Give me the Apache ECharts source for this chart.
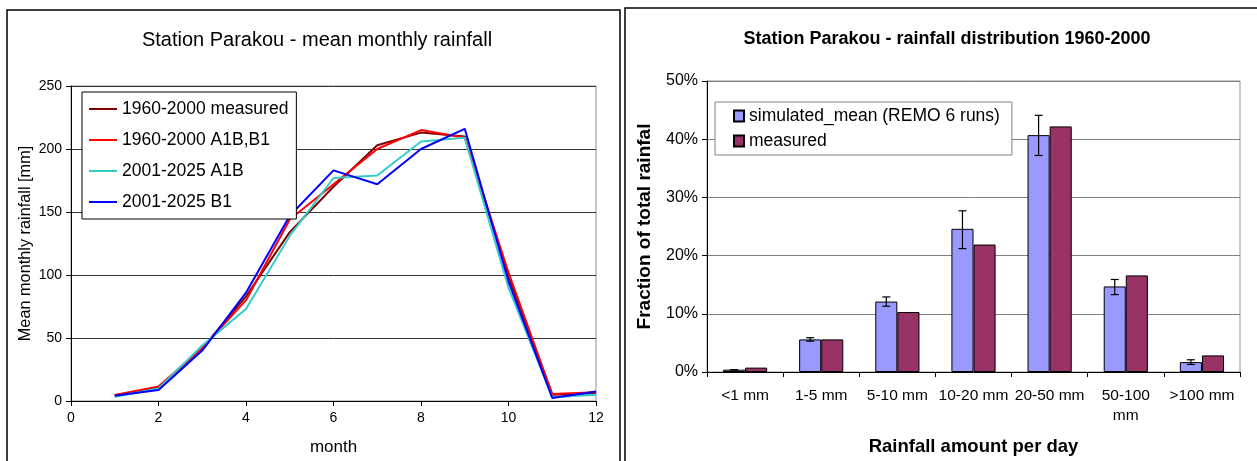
<!DOCTYPE html>
<html><head><meta charset="utf-8">
<script src="https://cdn.jsdelivr.net/npm/echarts@6/dist/echarts.min.js"></script>
<style>html,body{margin:0;padding:0;background:#fff}#c{width:1257px;height:461px}</style>
</head><body><div id="c"></div>
<script>
// ---- Left chart data: mean monthly rainfall [mm] ----
const months = [1,2,3,4,5,6,7,8,9,10,11,12];
const measured_1960_2000 = [4.2, 10.8, 42, 83, 134, 170, 203, 213, 210, 99, 5, 6];
const a1bb1_1960_2000   = [4.7, 11.6, 42, 80, 144, 172, 200, 215, 209, 102, 5.5, 7];
const a1b_2001_2025     = [3.4, 10, 44, 73, 131, 177, 179, 206, 209, 90, 3, 5];
const b1_2001_2025      = [4.2, 8.7, 40, 86, 147, 183, 172, 200, 216, 95, 2.4, 7.6];
const leftSeriesNames = ['1960-2000 measured','1960-2000 A1B,B1','2001-2025 A1B','2001-2025 B1'];

// ---- Right chart data: rainfall distribution [%] ----
const classes = ['<1 mm','1-5 mm','5-10 mm','10-20 mm','20-50 mm','50-100\nmm','>100 mm'];
const simulatedMean = [0.4, 5.6, 12.1, 24.6, 40.7, 14.7, 1.7];
const measuredDist  = [0.75, 5.6, 10.3, 21.9, 42.2, 16.6, 2.85];
const simLow  = [0.4, 5.3, 11.3, 21.2, 37.2, 13.3, 1.3];
const simHigh = [0.4, 5.9, 12.9, 27.7, 44.1, 15.9, 2.1];

const FONT = 'Liberation Sans, Arial, sans-serif';
const chart = echarts.init(document.getElementById('c'));
const mk = (arr) => months.map((m,i)=>[m, arr[i]]);
const catGap = 0.42;

const option = {
  animation: false,
  textStyle: {fontFamily: FONT},
  title: [
    {text: 'Station Parakou - mean monthly rainfall', left: 312, top: 25, textAlign: 'center',
     textStyle: {fontFamily: FONT, fontSize: 20, fontWeight: 'normal', color: '#000'}},
    {text: 'Station Parakou - rainfall distribution 1960-2000', left: 942, top: 25, textAlign: 'center',
     textStyle: {fontFamily: FONT, fontSize: 18, fontWeight: 'bold', color: '#000'}}
  ],
  graphic: [
    {type: 'rect', shape: {x: 7, y: 10, width: 613, height: 470}, style: {fill: 'none', stroke: '#000', lineWidth: 1.5}, z: 0},
    {type: 'rect', shape: {x: 625, y: 8, width: 660, height: 470}, style: {fill: 'none', stroke: '#000', lineWidth: 1.5}, z: 0}
  ],
  legend: [
    {data: leftSeriesNames, orient: 'vertical', left: 82, top: 92,
     itemWidth: 28, itemHeight: 14, itemGap: 13, padding: [8, 8, 8, 7],
     backgroundColor: '#fff', borderColor: '#000', borderWidth: 1,
     icon: 'path://M0,6 L28,6 L28,8 L0,8 Z',
     textStyle: {fontFamily: FONT, fontSize: 17.5, color: '#000', lineHeight: 18}, z: 10},
    {data: ['simulated_mean (REMO 6 runs)', 'measured'], orient: 'vertical', left: 715, top: 102,
     itemWidth: 10, itemHeight: 11, itemGap: 7, padding: [5, 12, 5, 18], icon: 'rect',
     backgroundColor: '#fff', borderColor: '#808080', borderWidth: 1,
     textStyle: {fontFamily: FONT, fontSize: 17.5, color: '#000', lineHeight: 18}, z: 10}
  ],
  grid: [
    {left: 71, right: 661, top: 86, bottom: 60, show: true, borderColor: '#909090', borderWidth: 1, containLabel: false},
    {left: 707, right: 17, top: 81, bottom: 88, show: true, borderColor: '#909090', borderWidth: 1, containLabel: false}
  ],
  xAxis: [
    {type: 'value', gridIndex: 0, min: 0, max: 12, interval: 2,
     name: 'month', nameLocation: 'middle', nameGap: 38,
     nameTextStyle: {fontFamily: FONT, fontSize: 17, color: '#000'},
     axisLine: {lineStyle: {color: '#000', width: 1}},
     axisTick: {show: true, length: 5, lineStyle: {color: '#000'}},
     axisLabel: {fontFamily: FONT, fontSize: 14, color: '#000', margin: 10},
     splitLine: {show: false}},
    {type: 'category', gridIndex: 1, data: classes,
     name: 'Rainfall amount per day', nameLocation: 'middle', nameGap: 65,
     nameTextStyle: {fontFamily: FONT, fontSize: 18.5, fontWeight: 'bold', color: '#000'},
     axisLine: {lineStyle: {color: '#000', width: 1}},
     axisTick: {show: true, length: 5, lineStyle: {color: '#000'}},
     axisLabel: {fontFamily: FONT, fontSize: 15.5, color: '#000', margin: 14, lineHeight: 20, interval: 0}}
  ],
  yAxis: [
    {type: 'value', gridIndex: 0, min: 0, max: 250, interval: 50,
     name: 'Mean monthly rainfall [mm]', nameLocation: 'middle', nameGap: 37,
     nameTextStyle: {fontFamily: FONT, fontSize: 16.3, color: '#000'},
     axisLine: {show: true, lineStyle: {color: '#000', width: 1}},
     axisTick: {show: true, length: 5, lineStyle: {color: '#000'}},
     axisLabel: {fontFamily: FONT, fontSize: 14, color: '#000', margin: 9},
     splitLine: {show: true, lineStyle: {color: '#333', width: 1}}},
    {type: 'value', gridIndex: 1, min: 0, max: 50, interval: 10,
     name: 'Fraction of total rainfal', nameLocation: 'middle', nameGap: 53,
     nameTextStyle: {fontFamily: FONT, fontSize: 19, fontWeight: 'bold', color: '#000'},
     axisLine: {show: true, lineStyle: {color: '#000', width: 1}},
     axisTick: {show: true, length: 5, lineStyle: {color: '#000'}},
     axisLabel: {fontFamily: FONT, fontSize: 16, color: '#000', margin: 9, formatter: '{value}%'},
     splitLine: {show: true, lineStyle: {color: '#808080', width: 1}}}
  ],
  series: [
    {name: leftSeriesNames[0], type: 'line', xAxisIndex: 0, yAxisIndex: 0, data: mk(measured_1960_2000),
     symbol: 'none', lineStyle: {color: '#800000', width: 2}, itemStyle: {color: '#800000'}, z: 3},
    {name: leftSeriesNames[1], type: 'line', xAxisIndex: 0, yAxisIndex: 0, data: mk(a1bb1_1960_2000),
     symbol: 'none', lineStyle: {color: '#ff0000', width: 2}, itemStyle: {color: '#ff0000'}, z: 4},
    {name: leftSeriesNames[2], type: 'line', xAxisIndex: 0, yAxisIndex: 0, data: mk(a1b_2001_2025),
     symbol: 'none', lineStyle: {color: '#33cccc', width: 2}, itemStyle: {color: '#33cccc'}, z: 5},
    {name: leftSeriesNames[3], type: 'line', xAxisIndex: 0, yAxisIndex: 0, data: mk(b1_2001_2025),
     symbol: 'none', lineStyle: {color: '#0000ff', width: 2}, itemStyle: {color: '#0000ff'}, z: 6},
    {name: 'simulated_mean (REMO 6 runs)', type: 'bar', xAxisIndex: 1, yAxisIndex: 1, data: simulatedMean,
     barGap: '0%', barCategoryGap: (catGap*100)+'%',
     itemStyle: {color: '#9999ff', borderColor: '#000', borderWidth: 1}},
    {name: 'measured', type: 'bar', xAxisIndex: 1, yAxisIndex: 1, data: measuredDist,
     itemStyle: {color: '#993366', borderColor: '#000', borderWidth: 1}},
    {name: 'err', type: 'custom', xAxisIndex: 1, yAxisIndex: 1, z: 5,
     data: classes.map((c,i)=>[i, simLow[i], simHigh[i]]),
     encode: {x: 0, y: [1, 2]},
     renderItem: function(params, api) {
       const i = api.value(0);
       const lo = api.coord([i, api.value(1)]);
       const hi = api.coord([i, api.value(2)]);
       const band = api.size([1, 0])[0];
       const off = -band * (1 - catGap) / 4;
       const x = lo[0] + off;
       const cap = 4;
       const st = {stroke: '#000', lineWidth: 1.2};
       return {type: 'group', children: [
         {type: 'line', shape: {x1: x, y1: lo[1], x2: x, y2: hi[1]}, style: st},
         {type: 'line', shape: {x1: x-cap, y1: lo[1], x2: x+cap, y2: lo[1]}, style: st},
         {type: 'line', shape: {x1: x-cap, y1: hi[1], x2: x+cap, y2: hi[1]}, style: st}
       ]};
     }}
  ]
};
chart.setOption(option);
</script></body></html>
